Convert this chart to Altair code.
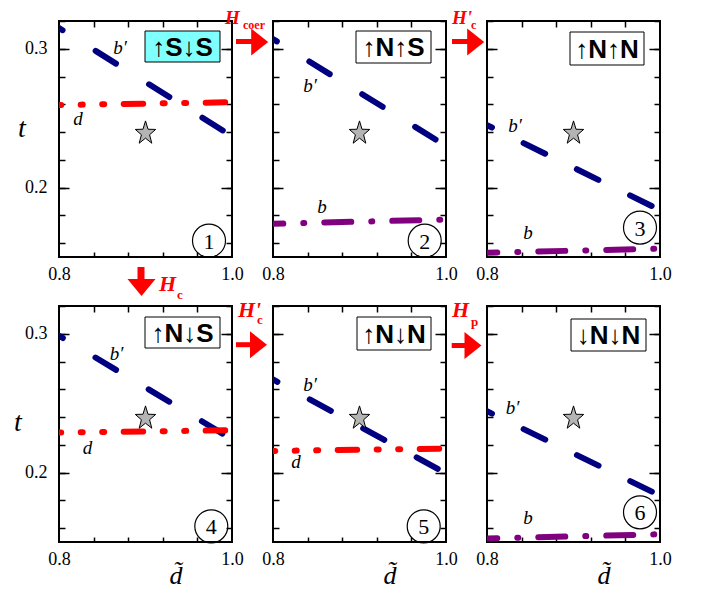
import altair as alt
import pandas as pd

# ---------------- data ----------------
D_RANGE = [0.8, 1.0]
BP_T0 = [0.315, 0.307, 0.245, 0.2986, 0.2671, 0.2442]   # b' line at d=0.8
BP_T1 = [0.237, 0.230, 0.1838, 0.224, 0.1995, 0.1834]   # b' line at d=1.0
SEC_NAME = ['d', 'b', 'b', 'd', 'd', 'b']
SEC_T0 = [0.2595, 0.1739, 0.1531, 0.2288, 0.2156, 0.1525]
SEC_T1 = [0.2615, 0.1770, 0.1560, 0.2305, 0.2173, 0.1556]
STAR_D = [0.9]
STAR_T = [0.24]
STATES = ['↑S↓S', '↑N↑S', '↑N↑N', '↑N↓S', '↑N↓N', '↓N↓N']
NUMBERS = ['1', '2', '3', '4', '5', '6']
Y_MINOR = [0.16, 0.18, 0.20, 0.22, 0.24, 0.26, 0.28, 0.30, 0.32]
Y_MAJOR = [0.2, 0.3]
X_MINOR = [0.84, 0.88, 0.92, 0.96]
X_MAJOR = [0.8, 1.0]

# ---------------- styling ----------------
W, H = 173, 236
BLUE, RED, PURPLE = '#000080', '#ff0000', '#800080'
SERIF = 'Liberation Serif'
SANS = 'Liberation Sans'
BP_DASH = [[24, 39], [24, 38.2], [24, 35.3], [24, 38], [24, 36.8], [24, 35.3]]
BP_OFF = [19.8, 19.5, 18.5, 19.5, 19, 18.5]
SEC_STYLE = {
    'd': dict(color=RED, dash=[19.5, 19.5, 2, 19.5, 2, 19.5], off=17.3),
    'b': dict(color=PURPLE, dash=[27, 20, 1, 20], off=16.7),
}
BP_LABEL = [(61, 26.5), (37, 64.5), (28, 104.5), (57.5, 47.5), (37, 78.5), (25.5, 102)]
SEC_LABEL = [(19, 97.5), (49, 185.5), (41, 211.5), (28.5, 142), (23, 155.5), (41, 212)]
CIRCLE = [(150, 219.7), (151.7, 219.7), (153, 206.6), (152.3, 220.3), (150.7, 220.3), (153, 206.3)]
BOX = [(86, 10, 161, 41), (83, 10, 158, 42), (83, 11, 157, 44),
       (86, 11, 161, 42), (84, 11, 158, 44), (84, 13, 159, 45)]
BOX_FILL = ['#80ffff', 'white', 'white', 'white', 'white', 'white']

STAR_PATH = ("M0,-1.04L0.2351,-0.262L0.9511,-0.2456L0.3804,0.252L0.5878,1.04L0,0.57"
             "L-0.5878,1.04L-0.3804,0.252L-0.9511,-0.2456L-0.2351,-0.262Z")
TRI_R = "M-0.63,-1L0.63,0L-0.63,1Z"
TRI_D = "M-1,-0.607L1,-0.607L0,0.607Z"

xs = alt.Scale(domain=D_RANGE, nice=False, zero=False)
ys = alt.Scale(domain=[0.15, 0.32], nice=False, zero=False)
one = pd.DataFrame({'k': [0]})


def txt(s, x, y, **kw):
    return alt.Chart(one).mark_text(**kw).encode(
        x=alt.value(x), y=alt.value(y), text=alt.value(s))


def tick_axis(orient, values, size):
    return alt.Axis(orient=orient, values=values, tickSize=size, offset=-size,
                    labels=False, domain=False, grid=False, title=None,
                    ticks=True, tickColor='black', tickWidth=1.5)


def h_label(main, sub, x, y, sx, sy, size=22, subsize=13):
    a = txt(main, x, y, font=SERIF, fontSize=size, fontWeight='bold', fontStyle='italic',
            color=RED, align='left', baseline='alphabetic')
    b = txt(sub, sx, sy, font=SERIF, fontSize=subsize, fontWeight='bold',
            color=RED, align='left', baseline='alphabetic')
    return [a, b]


def right_arrow(x0, x1, y, tx, ty):
    shaft = alt.Chart(one).mark_rule(color=RED, strokeWidth=5).encode(
        x=alt.value(x0), x2=alt.value(x1), y=alt.value(y))
    head = alt.Chart(one).mark_point(shape=TRI_R, size=729, filled=True, color=RED,
                                     opacity=1, strokeWidth=0).encode(
        x=alt.value(tx), y=alt.value(ty))
    return [shaft, head]


def panel(i):
    row, col = divmod(i, 3)
    bp = pd.DataFrame({'d': D_RANGE, 't': [BP_T0[i], BP_T1[i]]})
    sec = pd.DataFrame({'d': D_RANGE, 't': [SEC_T0[i], SEC_T1[i]]})
    star = pd.DataFrame({'d': STAR_D, 't': STAR_T})

    def enc(ch, xa=None, ya=None):
        return ch.encode(x=alt.X('d:Q', scale=xs, axis=xa),
                         y=alt.Y('t:Q', scale=ys, axis=ya))

    base = alt.Chart(bp).mark_point(opacity=0)
    layers = [
        enc(base, tick_axis('bottom', X_MINOR, 5), tick_axis('left', Y_MINOR, 6)),
        enc(base,
            alt.Axis(orient='bottom', values=X_MAJOR, ticks=False, tickSize=0,
                     labels=True, format='.1f', labelPadding=8, labelFlush=False,
                     domain=False, grid=False, title=None),
            alt.Axis(orient='left', values=Y_MAJOR, tickSize=10, offset=-10,
                     labels=(col == 0), format='.1f', labelPadding=12,
                     labelFlush=False, domain=False, grid=False, title=None,
                     tickColor='black', tickWidth=1.5)),
        enc(base, tick_axis('top', X_MINOR, 6), tick_axis('right', Y_MINOR, 6)),
        enc(base, None, tick_axis('right', Y_MAJOR, 11)),
    ]
    st = SEC_STYLE[SEC_NAME[i]]
    layers += [
        enc(alt.Chart(bp).mark_line(color=BLUE, strokeWidth=6, strokeCap='round',
                                    strokeDash=BP_DASH[i], strokeDashOffset=BP_OFF[i],
                                    clip=True)),
        enc(alt.Chart(sec).mark_line(color=st['color'], strokeWidth=6, strokeCap='round',
                                     strokeDash=st['dash'], strokeDashOffset=st['off'],
                                     clip=True)),
        enc(alt.Chart(star).mark_point(shape=STAR_PATH, size=460, filled=True,
                                       fill='#b4b4b4', stroke='black', strokeWidth=1,
                                       opacity=1)),
    ]
    bx, by = BP_LABEL[i]
    sx, sy = SEC_LABEL[i]
    layers += [
        txt('b′', bx, by, font=SERIF, fontSize=19, fontStyle='italic', align='center',
            baseline='middle', color='black'),
        txt(SEC_NAME[i], sx, sy, font=SERIF, fontSize=19, fontStyle='italic',
            align='center', baseline='middle', color='black'),
    ]
    cx, cy = CIRCLE[i]
    layers += [
        alt.Chart(one).mark_point(shape='circle', size=1089, filled=False,
                                  stroke='black', strokeWidth=1.2, opacity=1).encode(
            x=alt.value(cx), y=alt.value(cy)),
        txt(NUMBERS[i], cx, cy + 1, font=SERIF, fontSize=22, align='center',
            baseline='middle', color='black'),
    ]
    x0, y0, x1, y1 = BOX[i]
    layers += [
        alt.Chart(one).mark_rect(fill=BOX_FILL[i], stroke='black', strokeWidth=1).encode(
            x=alt.value(x0), x2=alt.value(x1), y=alt.value(y0), y2=alt.value(y1)),
        txt(STATES[i], (x0 + x1) / 2, (y0 + y1) / 2 + 1, font=SANS, fontSize=26,
            fontWeight='bold', align='center', baseline='middle', color='black'),
    ]
    if col == 0:
        ty = 116 if row == 0 else 125
        tx = -37 if row == 0 else -41
        layers.append(txt('t', tx, ty, font=SERIF, fontSize=28, fontStyle='italic',
                          align='center', baseline='alphabetic', color='black'))
    if row == 1:
        layers.append(txt('d\u0303', 117, 278, font=SERIF, fontSize=26, fontStyle='italic',
                          align='center', baseline='alphabetic', color='black'))
    # field-change arrows
    if i == 0:
        layers += [
            alt.Chart(one).mark_rule(color=RED, strokeWidth=7).encode(
                x=alt.value(82), y=alt.value(246), y2=alt.value(262)),
            alt.Chart(one).mark_point(shape=TRI_D, size=784, filled=True, color=RED,
                                      opacity=1, strokeWidth=0).encode(
                x=alt.value(82.5), y=alt.value(266.5)),
        ]
        layers += h_label('H', 'c', 100, 270, 118, 278)
    if i == 1:
        layers += right_arrow(-37, -18, 20.5, -13.3, 21)
        layers += h_label('H', 'coer', -48, 3, -30, 7.5, size=19, subsize=12)
    if i == 2:
        layers += right_arrow(-35, -16, 20.5, -11.3, 21)
        layers += h_label("H'", 'c', -35, 3, -16, 7.5, size=19, subsize=12)
    if i == 4:
        layers += right_arrow(-37, -18, 38.7, -14.5, 38.8)
        layers += h_label("H'", 'c', -35, 11, -16, 18)
    if i == 5:
        layers += right_arrow(-35.3, -18, 39.5, -14, 39.5)
        layers += h_label('H', 'p', -35, 11, -16, 20)

    return alt.layer(*layers).resolve_axis(x='independent', y='independent').properties(
        width=W, height=H)


chart = alt.concat(*[panel(i) for i in range(6)], columns=3,
                   spacing={'row': 49, 'column': 41}, bounds='flush').configure_view(
    stroke='black', strokeWidth=2
).configure_axis(
    labelFont=SERIF, labelFontSize=18, labelColor='black'
).properties(
    padding={'left': 5, 'top': 0, 'right': 5, 'bottom': 5}, background='white'
)

chart.save("out.html", embed_options={"renderer": "svg", "actions": False})
